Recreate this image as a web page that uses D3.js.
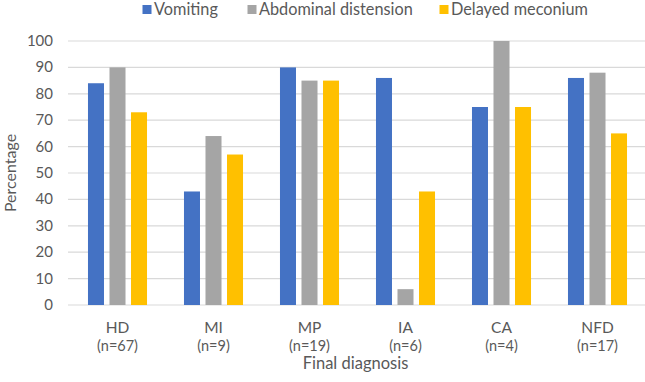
<!DOCTYPE html>
<html>
<head>
<meta charset="utf-8">
<script src="https://cdn.jsdelivr.net/npm/d3@7"></script>
<style>
  body { margin: 0; background: #fff; }
  text { font-family: Lato, "Open Sans", sans-serif; fill: #595959; }
</style>
</head>
<body>
<div id="wrapper"></div>
<script>
const categories = ["HD", "MI", "MP", "IA", "CA", "NFD"]
const counts = ["(n=67)", "(n=9)", "(n=19)", "(n=6)", "(n=4)", "(n=17)"]
const seriesNames = ["Vomiting", "Abdominal distension", "Delayed meconium"]
const vomiting = [84, 43, 90, 86, 75, 86]
const abdominal = [90, 64, 85, 6, 100, 88]
const meconium = [73, 57, 85, 43, 75, 65]
const yTicks = [0, 10, 20, 30, 40, 50, 60, 70, 80, 90, 100]
const colors = ["#4472C4", "#A5A5A5", "#FFC000"]

const width = 645
const height = 382
const plotLeft = 69.5, plotRight = 645.5, plotTop = 41, plotBottom = 305

const svg = d3.select("#wrapper").append("svg")
  .attr("width", width)
  .attr("height", height)

const x = d3.scaleBand().domain(categories).range([plotLeft, plotRight]).paddingInner(0.385).paddingOuter(0.1925)
const xs = d3.scaleBand().domain(seriesNames).range([0, x.bandwidth()]).paddingInner(0.256)
const y = d3.scaleLinear().domain([0, 100]).range([plotBottom, plotTop])

// gridlines
svg.append("g").selectAll("line").data(yTicks).enter().append("line")
  .attr("x1", 68).attr("x2", width)
  .attr("y1", d => y(d)).attr("y2", d => y(d))
  .style("stroke", "#d9d9d9").style("stroke-width", 1.2)

svg.append("g").selectAll("text").data(yTicks).enter().append("text")
  .attr("x", 53).attr("y", d => y(d) + 5)
  .attr("text-anchor", "end")
  .style("font-size", "15px")
  .text(d => d)

const seriesData = [vomiting, abdominal, meconium]
seriesData.forEach((vals, s) => {
  svg.append("g").selectAll("rect").data(vals).enter().append("rect")
    .attr("x", (d, i) => x(categories[i]) + xs(seriesNames[s]))
    .attr("y", d => y(d))
    .attr("width", xs.bandwidth())
    .attr("height", d => y(0) - y(d))
    .attr("fill", colors[s])
})

// x labels
const xl = svg.append("g").selectAll("g").data(categories).enter().append("g")
  .attr("transform", d => `translate(${x(d) + x.bandwidth() / 2},0)`)
xl.append("text").attr("y", 333).attr("text-anchor", "middle")
  .style("font-size", "15.5px").text(d => d)
xl.append("text").attr("y", 351).attr("text-anchor", "middle")
  .style("font-size", "14.5px").text((d, i) => counts[i])

svg.append("text")
  .attr("x", (plotLeft + plotRight) / 2 - 2).attr("y", 369)
  .attr("text-anchor", "middle")
  .style("font-size", "16.5px")
  .text("Final diagnosis")

svg.append("text")
  .attr("transform", `translate(16, ${(plotTop + plotBottom) / 2}) rotate(-90)`)
  .attr("text-anchor", "middle")
  .style("font-size", "16px")
  .text("Percentage")

// legend
const legendX = [154, 259, 451]
const legend = svg.append("g").selectAll("g").data(seriesNames).enter().append("g")
  .attr("transform", (d, i) => `translate(${legendX[i]}, 15)`)
legend.append("rect").attr("x", -11.5).attr("y", -10).attr("width", 9).attr("height", 9)
  .attr("fill", (d, i) => colors[i])
legend.append("text").attr("x", 0).attr("y", 0)
  .style("font-size", "16.3px").text(d => d)
</script>
</body>
</html>
